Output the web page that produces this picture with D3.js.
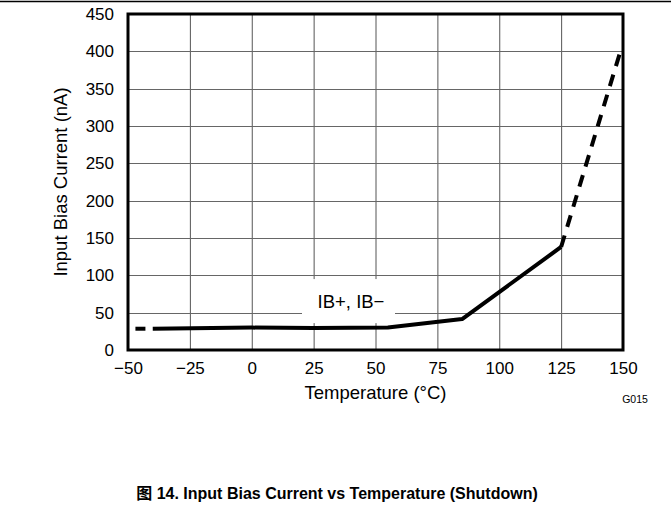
<!DOCTYPE html>
<html>
<head>
<meta charset="utf-8">
<script src="https://cdn.jsdelivr.net/npm/d3@7/dist/d3.min.js"></script>
<style>
  html, body { margin: 0; padding: 0; background: #fff; }
  svg { display: block; font-family: "Liberation Sans", Arial, sans-serif; }
</style>
</head>
<body>
<svg id="chart" width="671" height="512"></svg>
<script>
// ---- data ----
const xTicks = [-50, -25, 0, 25, 50, 75, 100, 125, 150];
const yTicks = [0, 50, 100, 150, 200, 250, 300, 350, 400, 450];
const tempSolid = [-40, 0, 25, 55, 85, 125];
const biasSolid = [28.5, 30, 29.5, 30, 41.5, 138];
const tempLow = [-47, -40];
const biasLow = [28.5, 28.5];
const tempHigh = [125, 149.5];
const biasHigh = [138, 406];
const seriesLabel = "IB+, IB\u2212";
const xTitle = "Temperature (\u00B0C)";
const yTitle = "Input Bias Current (nA)";
const figId = "G015";
const caption = "\u56FE 14. Input Bias Current vs Temperature (Shutdown)";

// ---- layout ----
const L = 128, R = 623, T = 14, B = 350;
const svg = d3.select("#chart");
const x = d3.scaleLinear().domain([-50, 150]).range([L, R]);
const y = d3.scaleLinear().domain([0, 450]).range([B, T]);
const fmt = d => d < 0 ? "\u2212" + Math.abs(d) : String(d);

// top rule
svg.append("line").attr("x1", 0).attr("x2", 671).attr("y1", 1.5).attr("y2", 1.5)
  .attr("stroke", "#000").attr("stroke-width", 1.5);

// grid
const grid = svg.append("g");
grid.selectAll(".vg").data(xTicks.slice(1, -1)).enter().append("line")
  .attr("x1", d => x(d) + 0.5).attr("x2", d => x(d) + 0.5)
  .attr("y1", T).attr("y2", B).attr("stroke", "#555").attr("stroke-width", 1);
grid.selectAll(".hg").data(yTicks.slice(1, -1)).enter().append("line")
  .attr("y1", d => Math.round(y(d)) + 0.5).attr("y2", d => Math.round(y(d)) + 0.5)
  .attr("x1", L).attr("x2", R).attr("stroke", "#666").attr("stroke-width", 1);

// axes (labels only)
const xAxis = svg.append("g").attr("transform", `translate(0,${B})`)
  .call(d3.axisBottom(x).tickValues(xTicks).tickFormat(fmt).tickSize(0).tickPadding(12));
xAxis.select(".domain").remove();
xAxis.selectAll("text").attr("font-size", 17).attr("fill", "#000")
  .attr("font-family", "Liberation Sans, Arial, sans-serif");

const yAxis = svg.append("g").attr("transform", `translate(${L},0)`)
  .call(d3.axisLeft(y).tickValues(yTicks).tickFormat(fmt).tickSize(0).tickPadding(14));
yAxis.select(".domain").remove();
yAxis.selectAll("text").attr("font-size", 17).attr("fill", "#000")
  .attr("font-family", "Liberation Sans, Arial, sans-serif");

// label box
svg.append("rect").attr("x", 302).attr("y", y(95)).attr("width", 93).attr("height", y(36) - y(95))
  .attr("fill", "#fff");
svg.append("text").attr("x", 351).attr("y", y(56)).attr("text-anchor", "middle")
  .attr("font-size", 18.5).text(seriesLabel);

// frame
svg.append("rect").attr("x", L).attr("y", T).attr("width", R - L).attr("height", B - T)
  .attr("fill", "none").attr("stroke", "#000").attr("stroke-width", 3);

// data lines
const line = d3.line().x(d => x(d[0])).y(d => y(d[1]));
svg.append("path").datum(d3.zip(tempSolid, biasSolid)).attr("d", line)
  .attr("fill", "none").attr("stroke", "#000").attr("stroke-width", 4).attr("stroke-linejoin", "round");
svg.append("path").datum(d3.zip(tempLow, biasLow)).attr("d", line)
  .attr("fill", "none").attr("stroke", "#000").attr("stroke-width", 4).attr("stroke-dasharray", "10,8");
svg.append("path").datum(d3.zip(tempHigh, biasHigh)).attr("d", line)
  .attr("fill", "none").attr("stroke", "#000").attr("stroke-width", 4).attr("stroke-dasharray", "12,9");

// titles
svg.append("text").attr("x", (L + R) / 2).attr("y", 399).attr("text-anchor", "middle")
  .attr("font-size", 18.5).text(xTitle);
svg.append("text").attr("transform", `translate(67,${(T + B) / 2}) rotate(-90)`)
  .attr("text-anchor", "middle").attr("font-size", 18.5).text(yTitle);
svg.append("text").attr("x", 635).attr("y", 403).attr("text-anchor", "middle")
  .attr("font-size", 10.5).text(figId);

// caption
svg.append("text").attr("x", 337).attr("y", 499).attr("text-anchor", "middle")
  .attr("font-size", 16).attr("font-weight", "bold")
  .attr("font-family", "Liberation Sans, 'Noto Sans CJK SC', Arial, sans-serif").text(caption);
</script>
</body>
</html>
